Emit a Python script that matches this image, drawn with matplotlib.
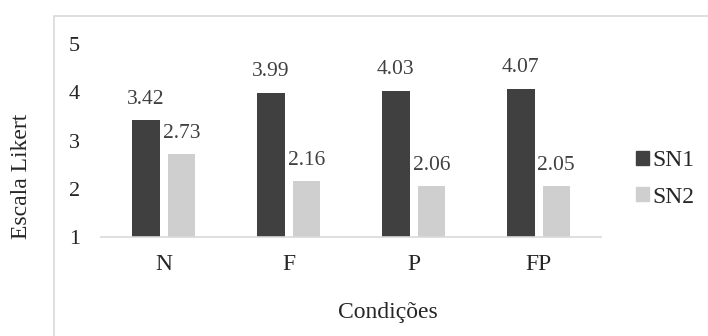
import matplotlib
matplotlib.use("Agg")
import matplotlib.pyplot as plt
from matplotlib.patches import Rectangle, Patch
import numpy as np

categories = ["N", "F", "P", "FP"]
sn1 = [3.42, 3.99, 4.03, 4.07]
sn2 = [2.73, 2.16, 2.06, 2.05]
series_names = ["SN1", "SN2"]
yticks = [1, 2, 3, 4, 5]

W, H = 708, 336
DPI = 100
plt.rcParams['font.family'] = ['Liberation Serif', 'DejaVu Serif']

fig = plt.figure(figsize=(W / DPI, H / DPI), dpi=DPI)

def fx(px):
    return px / W

def fy(py):
    return 1 - py / H

# outer chart frame
fig.patches.append(Rectangle((fx(54), fy(H + 10)), fx(W + 10) - fx(54), fy(16) - fy(H + 10),
                             transform=fig.transFigure, fill=False, edgecolor="#d9d9d9",
                             linewidth=1.2))

ax = fig.add_axes([fx(101), fy(237), fx(601) - fx(101), fy(44) - fy(237)])
x = np.arange(len(categories))
bw = 0.22
off = 0.142
c1, c2 = "#404040", "#cfcfcf"
b1 = ax.bar(x - off, sn1, bw, bottom=0, color=c1)
b2 = ax.bar(x + off, sn2, bw, bottom=0, color=c2)
ax.set_xlim(-0.5, len(categories) - 0.5)
ax.set_ylim(1, 5)
ax.set_yticks(yticks)
ax.set_yticklabels([str(v) for v in yticks])
ax.set_xticks(x)
ax.set_xticklabels(categories)
for s in ["top", "right", "left"]:
    ax.spines[s].set_visible(False)
ax.spines["bottom"].set_color("#d9d9d9")
ax.spines["bottom"].set_linewidth(1.2)
ax.tick_params(axis="y", length=0, pad=15, labelsize=16, labelcolor="#262626")
ax.tick_params(axis="x", length=0, pad=12, labelsize=17, labelcolor="#262626")

for xi, v in zip(x, sn1):
    ax.annotate(f"{v:.2f}", (xi - off, v), xytext=(0, 12), textcoords="offset points",
                ha="center", va="baseline", fontsize=15.5, color="#404040")
for xi, v in zip(x, sn2):
    ax.annotate(f"{v:.2f}", (xi + off, v), xytext=(0, 11.5), textcoords="offset points",
                ha="center", va="baseline", fontsize=15.5, color="#404040")

fig.text(fx(388), fy(318), "Condições", ha="center", va="baseline", fontsize=17, color="#262626")
fig.text(fx(21.5), fy(176.5), "Escala Likert", ha="center", va="center", rotation=90,
         fontsize=17, color="#262626")

handles = [Patch(color=c1), Patch(color=c2)]
fig.legend(handles, series_names, loc="center left", bbox_to_anchor=(fx(636), fy(179)),
           frameon=False, borderpad=0, borderaxespad=0, handlelength=0.55, handleheight=0.55,
           handletextpad=0.15, labelspacing=0.65, fontsize=17, labelcolor="#262626")

fig.savefig("out.png", dpi=DPI)
